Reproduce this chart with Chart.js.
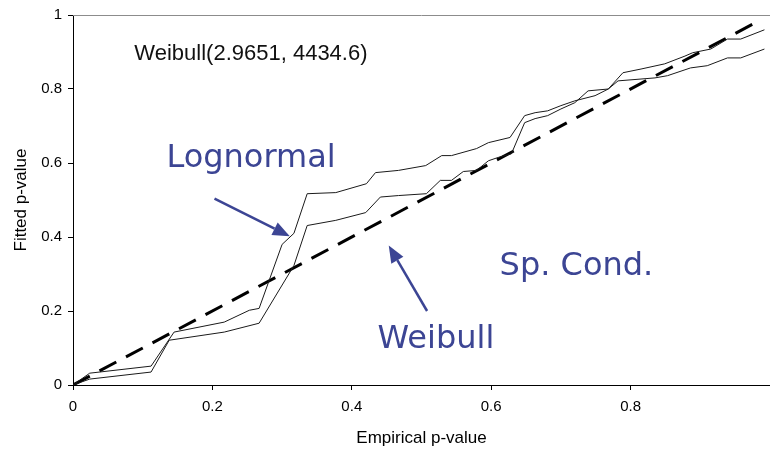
<!DOCTYPE html>
<html>
<head>
<meta charset="utf-8">
<script src="https://cdn.jsdelivr.net/npm/chart.js@4/dist/chart.umd.min.js"></script>
<style>
  body { margin: 0; background: #fff; }
  #wrap { width: 770px; height: 450px; }
</style>
</head>
<body>
<div id="wrap"><canvas id="ppChart" width="770" height="450"></canvas></div>
<script>
// empirical vs fitted p-values, Sp. Cond.
const lognormalX = [0, 0.024, 0.112, 0.145, 0.217, 0.253, 0.267, 0.300, 0.317, 0.336, 0.377, 0.421, 0.434, 0.467, 0.506, 0.529, 0.543, 0.579, 0.596, 0.627, 0.648, 0.663, 0.681, 0.700, 0.720, 0.749, 0.768, 0.782, 0.835, 0.853, 0.886, 0.910, 0.939, 0.958, 0.992];
const lognormalY = [0, 0.032, 0.051, 0.143, 0.170, 0.202, 0.207, 0.380, 0.410, 0.517, 0.520, 0.544, 0.574, 0.580, 0.593, 0.620, 0.620, 0.639, 0.655, 0.669, 0.728, 0.736, 0.741, 0.755, 0.768, 0.782, 0.800, 0.822, 0.830, 0.836, 0.857, 0.863, 0.884, 0.884, 0.908];

const weibullX = [0, 0.024, 0.112, 0.138, 0.217, 0.267, 0.317, 0.336, 0.377, 0.420, 0.441, 0.467, 0.507, 0.527, 0.543, 0.560, 0.579, 0.596, 0.610, 0.629, 0.648, 0.663, 0.681, 0.700, 0.720, 0.739, 0.768, 0.789, 0.815, 0.849, 0.878, 0.889, 0.915, 0.939, 0.958, 0.992];
const weibullY = [0, 0.016, 0.035, 0.121, 0.143, 0.167, 0.323, 0.431, 0.445, 0.466, 0.508, 0.512, 0.517, 0.553, 0.553, 0.577, 0.580, 0.606, 0.615, 0.625, 0.709, 0.720, 0.728, 0.746, 0.763, 0.795, 0.800, 0.844, 0.854, 0.868, 0.889, 0.898, 0.908, 0.935, 0.935, 0.960];

// perfect-fit diagonal
const diagonalX = [0, 0.98];
const diagonalY = [0, 0.98];

const tickValues = [0, 0.2, 0.4, 0.6, 0.8, 1];

const fitTitle = 'Weibull(2.9651, 4434.6)';
const siteLabel = 'Sp. Cond.';

const toPoints = (xs, ys) => xs.map((x, i) => ({ x: x, y: ys[i] }));

const annColor = 'rgb(60, 69, 148)';
const annFont = '32px "DejaVu Sans"';

// text labels and arrows, placed in data units
const notes = [
  { text: 'Lognormal', x: 0.134, y: 0.588 },
  { text: 'Weibull', x: 0.437, y: 0.100 },
  { text: siteLabel, x: 0.612, y: 0.296 }
];
const arrows = [
  { from: [0.203, 0.504], to: [0.311, 0.402] },
  { from: [0.508, 0.200], to: [0.453, 0.377] }
];

function drawArrow(ctx, x1, y1, x2, y2) {
  const ang = Math.atan2(y2 - y1, x2 - x1);
  const len = 17, half = 7;
  const bx = x2 - len * Math.cos(ang), by = y2 - len * Math.sin(ang);
  ctx.beginPath();
  ctx.moveTo(x1, y1);
  ctx.lineTo(bx, by);
  ctx.stroke();
  ctx.beginPath();
  ctx.moveTo(x2, y2);
  ctx.lineTo(bx + half * Math.sin(ang), by - half * Math.cos(ang));
  ctx.lineTo(bx - half * Math.sin(ang), by + half * Math.cos(ang));
  ctx.closePath();
  ctx.fill();
}

const extras = {
  id: 'extras',
  afterDatasetsDraw(chart) {
    const { ctx, chartArea, scales } = chart;
    const xs = scales.x, ys = scales.y;
    ctx.save();

    // top frame line
    ctx.strokeStyle = '#8c8c8c';
    ctx.lineWidth = 1;
    ctx.beginPath();
    ctx.moveTo(chartArea.left, chartArea.top + 0.5);
    ctx.lineTo(chartArea.right, chartArea.top + 0.5);
    ctx.stroke();

    // fit parameters
    ctx.fillStyle = '#111';
    ctx.font = '22px "Liberation Sans", Arial, sans-serif';
    ctx.textBaseline = 'alphabetic';
    ctx.textAlign = 'left';
    ctx.fillText(fitTitle, xs.getPixelForValue(0.088), ys.getPixelForValue(0.879));

    ctx.fillStyle = annColor;
    ctx.strokeStyle = annColor;
    ctx.font = annFont;
    notes.forEach(n => ctx.fillText(n.text, xs.getPixelForValue(n.x), ys.getPixelForValue(n.y)));

    ctx.lineWidth = 2.5;
    arrows.forEach(a => drawArrow(ctx,
      xs.getPixelForValue(a.from[0]), ys.getPixelForValue(a.from[1]),
      xs.getPixelForValue(a.to[0]), ys.getPixelForValue(a.to[1])));
    ctx.restore();
  }
};

const axisFont = { family: '"Liberation Sans", Arial, sans-serif', size: 15 };
const titleFont = { family: '"Liberation Sans", Arial, sans-serif', size: 17 };
const fmt = v => String(Math.round(v * 10) / 10);

new Chart(document.getElementById('ppChart'), {
  type: 'scatter',
  data: {
    datasets: [
      {
        label: 'Lognormal',
        data: toPoints(lognormalX, lognormalY),
        showLine: true,
        borderColor: '#1a1a1a',
        borderWidth: 1,
        pointRadius: 0,
        tension: 0
      },
      {
        label: 'Weibull',
        data: toPoints(weibullX, weibullY),
        showLine: true,
        borderColor: '#1a1a1a',
        borderWidth: 1,
        pointRadius: 0,
        tension: 0
      },
      {
        label: 'Diagonal',
        data: toPoints(diagonalX, diagonalY),
        showLine: true,
        borderColor: '#000',
        borderWidth: 3,
        borderDash: [19, 11],
        pointRadius: 0
      }
    ]
  },
  options: {
    responsive: false,
    animation: false,
    layout: { padding: { top: 14, left: 0, right: 0, bottom: 0 } },
    plugins: {
      legend: { display: false },
      tooltip: { enabled: false }
    },
    scales: {
      x: {
        type: 'linear',
        min: 0,
        max: 1,
        afterBuildTicks: s => { s.ticks = tickValues.map(v => ({ value: v })); },
        afterFit: s => {
          s.height = 65;
          // the axis runs to the right edge of the canvas
          s.paddingRight = 0;
          s.paddingLeft = 0;
        },
        ticks: {
          color: '#000',
          font: axisFont,
          padding: 8,
          maxRotation: 0,
          callback: v => (v === 1 ? '' : fmt(v))
        },
        grid: { drawOnChartArea: false, drawTicks: true, tickLength: 5, color: '#000' },
        border: { color: '#000', width: 1 },
        title: { display: true, text: 'Empirical p-value', color: '#000', font: titleFont, padding: { top: 0, bottom: 1 } }
      },
      y: {
        type: 'linear',
        min: 0,
        max: 1,
        afterBuildTicks: s => { s.ticks = tickValues.map(v => ({ value: v })); },
        afterFit: s => { s.width = 73; },
        ticks: {
          color: '#000',
          font: axisFont,
          padding: 6,
          callback: v => fmt(v)
        },
        grid: { drawOnChartArea: false, drawTicks: true, tickLength: 5, color: '#000' },
        border: { color: '#000', width: 1 },
        title: { display: true, text: 'Fitted p-value', color: '#000', font: titleFont, padding: { top: 11, bottom: 0 } }
      }
    }
  },
  plugins: [extras]
});
</script>
</body>
</html>
